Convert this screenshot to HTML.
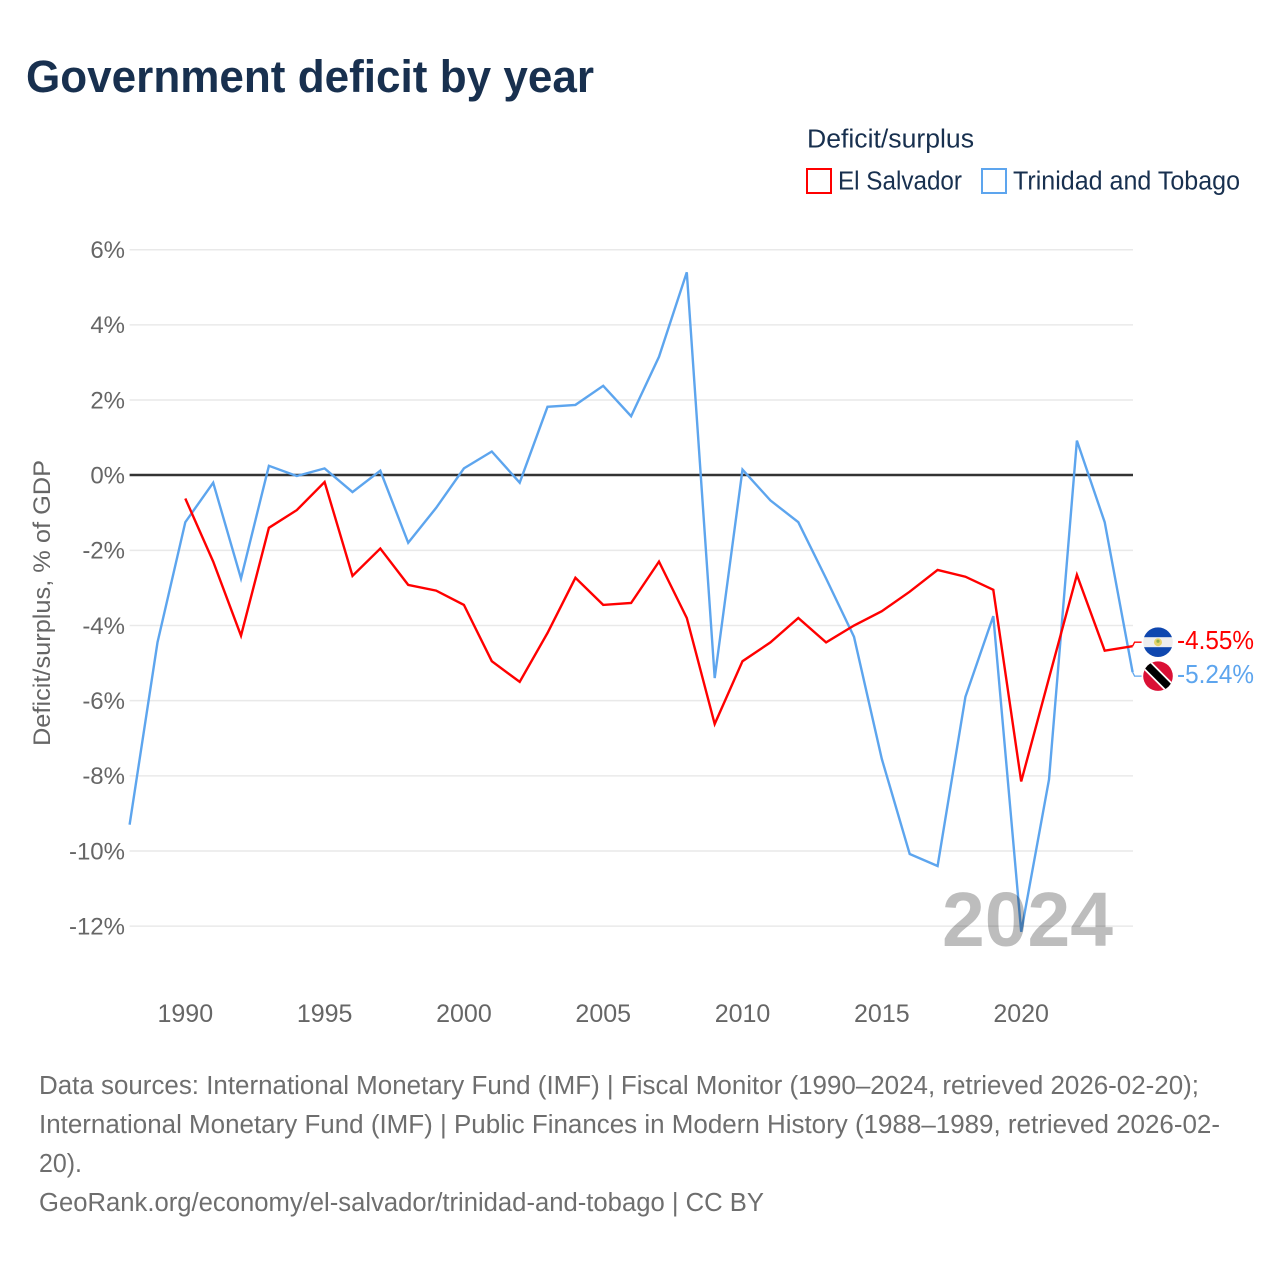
<!DOCTYPE html>
<html>
<head>
<meta charset="utf-8">
<title>Government deficit by year</title>
<style>
html,body{margin:0;padding:0;background:#fff;width:1280px;height:1280px;overflow:hidden}
svg{display:block}
text{font-family:"Liberation Sans",sans-serif}
</style>
</head>
<body>
<svg id="chart" width="1280" height="1280" viewBox="0 0 1280 1280" xmlns="http://www.w3.org/2000/svg">
  <defs>
    <clipPath id="flag-clip"><circle cx="0" cy="0" r="14.8"/></clipPath>
  </defs>
  <text x="26" y="92" font-size="45" font-weight="700" fill="#18304f" textLength="568" lengthAdjust="spacingAndGlyphs">Government deficit by year</text>

  <g>
    <text x="807" y="147.5" font-size="25.5" fill="#18304f" textLength="167" lengthAdjust="spacingAndGlyphs">Deficit/surplus</text>
    <rect x="807" y="169" width="24" height="24" fill="#fff" stroke="#ff0000" stroke-width="2"/>
    <text x="838" y="189.5" font-size="25.5" fill="#18304f" textLength="124" lengthAdjust="spacingAndGlyphs">El Salvador</text>
    <rect x="982" y="169" width="24" height="24" fill="#fff" stroke="#5da5ee" stroke-width="2"/>
    <text x="1013" y="189.5" font-size="25.5" fill="#18304f" textLength="227" lengthAdjust="spacingAndGlyphs">Trinidad and Tobago</text>
  </g>

  <g id="grid"></g>
  <g id="yticks"></g>
  <g id="xticks"></g>
  <text transform="translate(50,603) rotate(-90)" text-anchor="middle" font-size="24.5" fill="#666666" textLength="286" lengthAdjust="spacingAndGlyphs">Deficit/surplus, % of GDP</text>

  <g id="series"></g>

  <text x="942" y="946" font-size="77" font-weight="700" fill="#000000" fill-opacity="0.26" textLength="171" lengthAdjust="spacingAndGlyphs">2024</text>

  <g id="flag-es">
    <g clip-path="url(#flag-clip)">
      <rect x="-15" y="-15" width="30" height="30" fill="#eeeeee"/>
      <rect x="-15" y="-15" width="30" height="10" fill="#0f47af"/>
      <rect x="-15" y="5" width="30" height="10" fill="#0f47af"/>
      <circle cx="0" cy="0" r="4" fill="#e6d36a"/>
      <circle cx="0" cy="-1" r="1.6" fill="#8fb04a"/>
    </g>
  </g>
  <g id="flag-tt">
    <g clip-path="url(#flag-clip)">
      <rect x="-15" y="-15" width="30" height="30" fill="#da1035"/>
      <line x1="-15" y1="-15" x2="15" y2="15" stroke="#ffffff" stroke-width="11"/>
      <line x1="-15" y1="-15" x2="15" y2="15" stroke="#000000" stroke-width="7.5"/>
    </g>
  </g>
  <g id="endlabels"></g>

  <g font-size="25.5" fill="#6e6e6e">
    <text x="39" y="1094" textLength="1160" lengthAdjust="spacingAndGlyphs">Data sources: International Monetary Fund (IMF) | Fiscal Monitor (1990–2024, retrieved 2026-02-20);</text>
    <text x="39" y="1133" textLength="1181" lengthAdjust="spacingAndGlyphs">International Monetary Fund (IMF) | Public Finances in Modern History (1988–1989, retrieved 2026-02-</text>
    <text x="39" y="1172" textLength="43" lengthAdjust="spacingAndGlyphs">20).</text>
    <text x="39" y="1211" textLength="725" lengthAdjust="spacingAndGlyphs">GeoRank.org/economy/el-salvador/trinidad-and-tobago | CC BY</text>
  </g>
</svg>
<script>
const years = [1988,1989,1990,1991,1992,1993,1994,1995,1996,1997,1998,1999,2000,2001,2002,2003,2004,2005,2006,2007,2008,2009,2010,2011,2012,2013,2014,2015,2016,2017,2018,2019,2020,2021,2022,2023,2024];
const elSalvador = [null,null,-0.62,-2.3,-4.27,-1.4,-0.93,-0.18,-2.68,-1.95,-2.92,-3.07,-3.45,-4.95,-5.5,-4.2,-2.73,-3.45,-3.4,-2.3,-3.8,-6.62,-4.95,-4.45,-3.8,-4.45,-4.0,-3.62,-3.1,-2.52,-2.7,-3.05,-8.15,-5.4,-2.65,-4.67,-4.55];
const trinidadTobago = [-9.3,-4.45,-1.25,-0.2,-2.75,0.25,-0.02,0.18,-0.45,0.12,-1.8,-0.87,0.18,0.63,-0.2,1.82,1.87,2.38,1.57,3.15,5.4,-5.4,0.15,-0.67,-1.25,-2.75,-4.3,-7.55,-10.08,-10.4,-5.9,-3.75,-12.15,-8.1,0.92,-1.25,-5.24];
const yTicks = [6,4,2,0,-2,-4,-6,-8,-10,-12];
const xTicks = [1990,1995,2000,2005,2010,2015,2020];

const NS = 'http://www.w3.org/2000/svg';
const plotLeft = 129.6, plotRight = 1132.6;
function xScale(year){ return plotLeft + (year - 1988) * (plotRight - plotLeft) / 36; }
function yScale(v){ return 475.2 - v * 37.58; }
function make(tag, parent, attrs){
  const el = document.createElementNS(NS, tag);
  for (const k in attrs) el.setAttribute(k, attrs[k]);
  parent.appendChild(el);
  return el;
}

const grid = document.getElementById('grid');
const yGroup = document.getElementById('yticks');
yTicks.forEach(function(t){
  if (t !== 0) {
    const gl = make('line', grid, {x1: plotLeft, x2: plotRight + 0.4, y1: yScale(t), y2: yScale(t), stroke: '#e9e9e9', 'stroke-width': 1.5});
    
    
  }
  const lab = make('text', yGroup, {x: 125, y: yScale(t) + 8.3, 'text-anchor': 'end', 'font-size': 24, fill: '#666666'});
  lab.textContent = t + '%';
  
  
});

const xGroup = document.getElementById('xticks');
xTicks.forEach(function(t){
  const lab = make('text', xGroup, {x: xScale(t), y: 1022, 'text-anchor': 'middle', 'font-size': 25, fill: '#666666'});
  lab.textContent = t;
  
  
});

const seriesGroup = document.getElementById('series');
function drawSeries(values, color, name){
  const pts = [];
  values.forEach(function(v, i){
    if (v !== null) pts.push(xScale(years[i]).toFixed(1) + ',' + yScale(v).toFixed(1));
  });
  const line = make('polyline', seriesGroup, {points: pts.join(' '), fill: 'none', stroke: color, 'stroke-width': 2.4, 'stroke-linejoin': 'miter'});
  
  
}

const zero = make('line', seriesGroup, {x1: plotLeft, x2: plotRight + 0.4, y1: 475, y2: 475, stroke: '#333333', 'stroke-width': 2.6});



drawSeries(trinidadTobago, '#5da5ee', 'line-trinidad-and-tobago');
drawSeries(elSalvador, '#ff0000', 'line-el-salvador');

const endLabels = document.getElementById('endlabels');
function drawEnd(values, color, flagId, offset, labelName, connName){
  const last = values[values.length - 1];
  const y0 = yScale(last);
  const y1 = y0 + offset;
  const conn = make('polyline', endLabels, {points: plotRight + ',' + y0 + ' ' + (plotRight + 2) + ',' + y1 + ' ' + (plotRight + 9) + ',' + y1, fill: 'none', stroke: color, 'stroke-width': 1.3});
  
  
  document.getElementById(flagId).setAttribute('transform', 'translate(1158,' + y1 + ')');
  const lab = make('text', endLabels, {x: 1177, y: y1 + 7, 'font-size': 26, fill: color, textLength: 77, lengthAdjust: 'spacingAndGlyphs'});
  lab.textContent = last.toFixed(2) + '%';
  
  
}
drawEnd(elSalvador, '#ff0000', 'flag-es', -4, 'end-label-el-salvador', 'connector-el-salvador');
drawEnd(trinidadTobago, '#5da5ee', 'flag-tt', 4, 'end-label-trinidad-and-tobago', 'connector-trinidad-and-tobago');
</script>
</body>
</html>
